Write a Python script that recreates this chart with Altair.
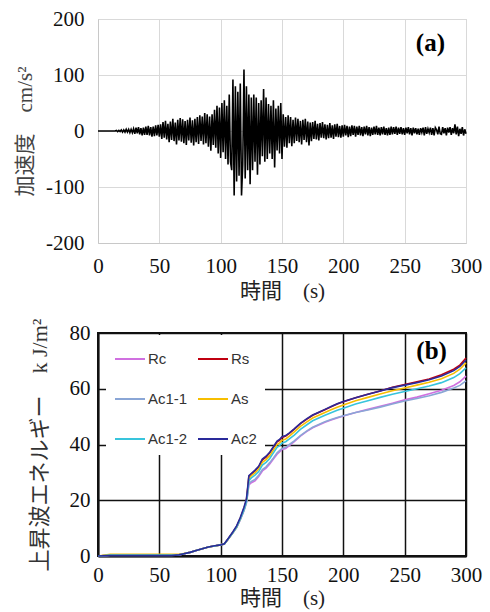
import altair as alt
import pandas as pd

# ---------------- Panel (a): acceleration record (1 s samples) ----------------
acc = [
    0, 0, 0, 0, 0, 0, 0, 0, 0, 0,
    0, 0, 0, 0, 0, 1, -1, 1, -1, 2,
    -2, 2, -2, 3, -2, 3, -3, 3, -3, 4,
    -5, 6, -4, 7, -6, 5, -8, 6, -7, 8,
    -7, 9, -8, 7, -10, 8, -9, 10, -8, 11,
    -10, 12, -14, 16, -12, 18, -15, 13, -20, 17,
    -16, 22, -18, 15, -24, 20, -17, 23, -19, 21,
    -22, 18, -25, 20, -17, 24, -21, 19, -26, 22,
    -20, 25, -23, 28, -18, 26, -24, 32, -22, 30,
    -28, 26, -35, 30, -25, 38, -30, 45, -40, 42,
    -48, 50, -38, 55, -50, 45, -60, 65, -55, -70,
    92, -115, 80, -90, 70, -80, 85, -115, -60, 110,
    -85, 80, -70, 65, -95, 60, -70, 65, -55, 60,
    -78, 50, -60, 55, -45, 75, -55, 60, -50, 48,
    -40, 45, -50, 55, -65, 40, -35, 45, -40, 50,
    -50, 30, -28, 25, -30, 28, -22, 25, -27, 20,
    -22, 24, -18, 22, -20, 18, -24, 20, -16, 22,
    -20, 17, -26, 15, -18, 16, -14, 18, -15, 13,
    -17, 14, -12, 16, -13, 12, -15, 11, -13, 14,
    -12, 10, -14, 12, -10, 13, -11, 9, -12, 10,
    -10, 11, -8, 9, -11, 8, -9, 10, -7, 9,
    -10, 8, -7, 9, -8, 7, -9, 8, -6, 9,
    -8, 7, -9, 6, -7, 8, -6, 9, -7, 6,
    -8, 7, -6, 8, -7, 5, -8, 6, -7, 8,
    -6, 7, -5, 8, -7, 6, -5, 7, -6, 5,
    -7, 6, -4, 7, -6, 5, -8, 6, -4, 5,
    -6, 4, -7, 5, -3, 6, -8, 7, -5, 4,
    -3, 6, -7, 5, -8, 6, 2, -6, 8, -5,
    -6, 7, -4, 5, -8, 6, -3, 7, -7, 5,
    -4, 12, -6, 8, -9, 4, -5, 7, -8, 3, -5,
]
acc_time = list(range(len(acc)))  # seconds

x_ticks = [0, 50, 100, 150, 200, 250, 300]
a_grid = [-200, -150, -100, -50, 0, 50, 100, 150, 200]

# ---------------- Panel (b): cumulative upward wave energy ----------------
t_e = [0, 10, 20, 30, 40, 50, 60,
       66, 70, 75, 80, 85, 90, 95, 100,
       103, 106, 110, 113, 116, 119, 121, 122, 123, 125,
       128, 131, 134, 137, 140, 143, 146, 148, 150,
       153, 156, 160, 165, 170, 175, 180, 185, 190, 195, 200,
       210, 220, 230, 240, 250, 260, 270, 280, 290, 295, 300]

Rc = [0, 0.3, 0.3, 0.3, 0.3, 0.3, 0.3,
      0.4, 0.8, 1.3, 2.0, 2.6, 3.2, 3.6, 4.0,
      4.3, 6.0, 8.3, 10.2, 13.0, 16.2, 19.0, 22.0, 25.5, 26.3,
      27.0, 28.5, 30.5, 31.5, 33.0, 34.8, 36.5, 37.3, 38.2,
      38.6, 39.6, 41.0, 43.0, 44.6, 46.0, 47.0, 48.0, 48.8, 49.5, 50.2,
      51.5, 52.6, 53.7, 54.8, 56.0, 57.0, 58.2, 59.5, 61.2, 62.5, 64.5]
Rs = [0, 0.3, 0.3, 0.3, 0.3, 0.3, 0.3,
      0.4, 0.8, 1.3, 2.0, 2.6, 3.2, 3.6, 4.0,
      4.3, 6.0, 8.5, 10.5, 13.5, 17.0, 20.0, 24.0, 28.5, 29.5,
      30.5, 32.0, 34.5, 35.5, 37.0, 39.0, 41.0, 41.5, 42.5,
      43.0, 44.0, 45.5, 47.5, 49.0, 50.5, 51.5, 52.5, 53.5, 54.5, 55.3,
      56.8, 58.0, 59.2, 60.5, 61.5, 62.5, 63.5, 65.0, 67.0, 68.5, 71.0]
Ac1_1 = [0, 0.2, 0.2, 0.2, 0.2, 0.2, 0.2,
         0.4, 0.8, 1.3, 2.0, 2.6, 3.2, 3.6, 4.0,
         4.3, 6.0, 8.3, 10.2, 13.0, 16.3, 19.2, 22.5, 26.0, 26.8,
         27.5, 29.0, 31.0, 32.0, 33.5, 35.2, 37.0, 37.8, 38.6,
         39.0, 40.0, 41.3, 43.2, 44.8, 46.2, 47.2, 48.2, 49.0, 49.7, 50.3,
         51.5, 52.4, 53.4, 54.5, 55.6, 56.5, 57.5, 58.7, 60.3, 61.2, 62.8]
As = [0, 0.6, 0.6, 0.6, 0.6, 0.6, 0.6,
      0.6, 0.9, 1.3, 2.0, 2.6, 3.2, 3.6, 4.0,
      4.3, 6.0, 8.4, 10.4, 13.4, 16.8, 19.8, 23.5, 27.8, 28.8,
      29.8, 31.2, 33.6, 34.6, 36.0, 38.0, 40.0, 40.6, 41.5,
      42.0, 43.0, 44.5, 46.5, 48.0, 49.5, 50.5, 51.5, 52.5, 53.4, 54.2,
      55.7, 56.9, 58.1, 59.3, 60.3, 61.3, 62.3, 63.6, 65.5, 67.0, 69.3]
Ac1_2 = [0, 0.3, 0.3, 0.3, 0.3, 0.3, 0.3,
         0.4, 0.8, 1.3, 2.0, 2.6, 3.2, 3.6, 4.0,
         4.3, 6.0, 8.4, 10.4, 13.3, 16.6, 19.5, 23.0, 27.0, 28.0,
         29.0, 30.3, 32.6, 33.6, 35.0, 37.0, 39.0, 39.6, 40.5,
         41.0, 42.0, 43.4, 45.4, 47.0, 48.5, 49.5, 50.5, 51.4, 52.3, 53.0,
         54.5, 55.7, 56.9, 58.0, 59.0, 60.0, 61.0, 62.2, 64.0, 65.4, 67.5]
Ac2 = [0, 0.2, 0.2, 0.2, 0.2, 0.2, 0.2,
       0.4, 0.8, 1.3, 2.0, 2.6, 3.2, 3.7, 4.0,
       4.4, 6.2, 8.7, 10.8, 13.8, 17.5, 20.5, 24.5, 28.8, 29.6,
       30.8, 32.2, 34.8, 35.8, 37.2, 39.2, 41.2, 41.8, 42.8,
       43.2, 44.2, 45.6, 47.6, 49.2, 50.6, 51.6, 52.6, 53.6, 54.6, 55.4,
       56.8, 58.0, 59.2, 60.4, 61.3, 62.2, 63.2, 64.6, 66.5, 68.0, 70.3]

series_names = ["Rc", "Rs", "Ac1-1", "As", "Ac1-2", "Ac2"]
series_vals = [Rc, Rs, Ac1_1, As, Ac1_2, Ac2]
series_colors = ["#d070e0", "#c00010", "#8aa6d6", "#f7be00", "#38c4dc", "#2a2a9a"]
b_yticks = [0, 20, 40, 60, 80]

panel_labels = ["(a)", "(b)"]

SERIF = "'Liberation Serif', 'Noto Sans CJK JP', serif"
SANS = "'Liberation Sans', 'Noto Sans CJK JP', sans-serif"

# ---------------- build panel (a) ----------------
df_a = pd.DataFrame({"t": acc_time, "a": acc})
line_a = alt.Chart(df_a).mark_line(color="black", strokeWidth=1.6).encode(
    x=alt.X("t:Q", scale=alt.Scale(domain=[0, 300], nice=False),
            axis=alt.Axis(values=x_ticks, title="時間　(s)", grid=True,
                          gridColor="#d9d9d9", gridWidth=1, domainColor="#c8c8c8",
                          ticks=False, labelFlush=False, labelOverlap=False,
                          labelFont=SERIF, labelFontSize=21,
                          labelColor="#111", labelPadding=12,
                          titleFont=SERIF, titleFontSize=21, titleFontWeight="normal",
                          titleColor="#222", titlePadding=4)),
    y=alt.Y("a:Q", scale=alt.Scale(domain=[-200, 200], nice=False),
            axis=alt.Axis(values=a_grid,
                          labelExpr="datum.value % 100 === 0 ? '' + datum.value : ''",
                          title="加速度　cm/s²", grid=True, gridColor="#d9d9d9",
                          gridWidth=1, domainColor="#c8c8c8", ticks=False,
                          labelFlush=False, labelOverlap=False,
                          labelFont=SERIF, labelFontSize=21, labelColor="#111",
                          labelPadding=14, titleFont=SERIF, titleFontSize=21,
                          titleFontWeight="normal", titleColor="#444",
                          titlePadding=10)),
)
lab_a = alt.Chart(pd.DataFrame({"x": [271], "y": [158], "txt": [panel_labels[0]]})).mark_text(
    font=SERIF, fontSize=25, fontWeight="bold", color="black"
).encode(x="x:Q", y="y:Q", text="txt:N")
panel_a = alt.layer(line_a, lab_a).properties(
    width=368, height=224,
    view=alt.ViewBackground(stroke="#d0d0d0", strokeWidth=1),
)

# ---------------- build panel (b) ----------------
rows = []
for name, vals in zip(series_names, series_vals):
    for t, v in zip(t_e, vals):
        rows.append({"t": t, "E": v, "s": name})
df_b = pd.DataFrame(rows)

line_b = alt.Chart(df_b).mark_line(strokeWidth=1.6).encode(
    x=alt.X("t:Q", scale=alt.Scale(domain=[0, 300], nice=False),
            axis=alt.Axis(values=x_ticks, title="時間　(s)", grid=True,
                          gridColor="#111", gridWidth=1.5, domainColor="#111",
                          domainWidth=2, ticks=False, labelFlush=False,
                          labelOverlap=False, labelFont=SERIF,
                          labelFontSize=21, labelColor="#111", labelPadding=8,
                          titleFont=SERIF, titleFontSize=21, titleFontWeight="normal",
                          titleColor="#222", titlePadding=2)),
    y=alt.Y("E:Q", scale=alt.Scale(domain=[0, 80], nice=False),
            axis=alt.Axis(values=b_yticks, title="上昇波エネルギー　k J/m²",
                          grid=True, gridColor="#111", gridWidth=1.5,
                          domainColor="#111", domainWidth=2, ticks=False,
                          labelFlush=False, labelOverlap=False,
                          labelFont=SERIF, labelFontSize=21, labelColor="#111",
                          labelPadding=8, titleFont=SERIF, titleFontSize=22,
                          titleFontWeight="normal", titleColor="#333",
                          titlePadding=18)),
    color=alt.Color("s:N",
                    scale=alt.Scale(domain=series_names, range=series_colors),
                    sort=series_names,
                    legend=alt.Legend(title=None, orient="none", legendX=8, legendY=316,
                                      columns=2, direction="horizontal",
                                      symbolType="stroke",
                                      symbolSize=900, symbolStrokeWidth=2,
                                      labelFont=SANS, labelFontSize=15,
                                      labelColor="#333", labelOffset=2,
                                      columnPadding=6, rowPadding=16,
                                      padding=8, fillColor="white",
                                      zindex=1)),
    order=alt.Order("s:N"),
)
lab_b = alt.Chart(pd.DataFrame({"x": [272], "y": [73.5], "txt": [panel_labels[1]]})).mark_text(
    font=SERIF, fontSize=25, fontWeight="bold", color="black"
).encode(x="x:Q", y="y:Q", text="txt:N")
panel_b = alt.layer(line_b, lab_b).properties(
    width=368, height=223,
    view=alt.ViewBackground(stroke="#111", strokeWidth=2),
)

chart = alt.vconcat(panel_a, panel_b, spacing=15).properties(
    padding={"left": 14, "top": 7, "right": 5, "bottom": 5}
).configure(background="white")

chart.save("out.html", embed_options={"renderer": "svg", "actions": False})
